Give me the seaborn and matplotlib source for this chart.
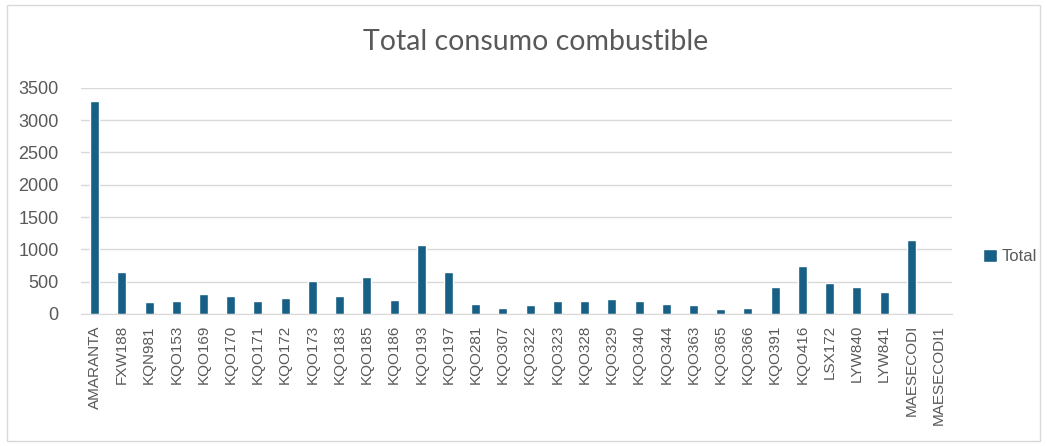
import pandas as pd
import matplotlib.pyplot as plt
import seaborn as sns
from matplotlib.patches import Rectangle

placas = ['AMARANTA', 'FXW188', 'KQN981', 'KQO153', 'KQO169', 'KQO170', 'KQO171',
          'KQO172', 'KQO173', 'KQO183', 'KQO185', 'KQO186', 'KQO193', 'KQO197',
          'KQO281', 'KQO307', 'KQO322', 'KQO323', 'KQO328', 'KQO329', 'KQO340',
          'KQO344', 'KQO363', 'KQO365', 'KQO366', 'KQO391', 'KQO416', 'LSX172',
          'LYW840', 'LYW841', 'MAESECODI', 'MAESECODI1']
consumo = [3295, 656, 181, 202, 305, 284, 206, 253, 507, 279, 569, 217, 1070, 656,
           155, 98, 134, 202, 197, 228, 206, 150, 140, 72, 98, 414, 749, 486,
           414, 336, 1148, 0]
yticks = [0, 500, 1000, 1500, 2000, 2500, 3000, 3500]

df = pd.DataFrame({'placa': placas, 'Total': consumo})

sns.set_style('white')
plt.rcParams['font.family'] = ['Liberation Sans', 'DejaVu Sans']

fig = plt.figure(figsize=(10.47, 4.46), dpi=100)
ax = fig.add_axes([0.0774, 0.296, 0.832, 0.507])

sns.barplot(x='placa', y='Total', data=df, color='#175f84', width=0.33,
            saturation=1, label='Total', legend=False, ax=ax)

ax.set_ylim(0, 3500)
ax.set_yticks(yticks)
ax.grid(axis='y', color='#d9d9d9', linewidth=1)
ax.set_axisbelow(True)
for s in ['top', 'right', 'left']:
    ax.spines[s].set_visible(False)
ax.spines['bottom'].set_color('#d9d9d9')
ax.set_xlabel('')
ax.set_ylabel('')
ax.tick_params(axis='y', length=0, labelsize=13, labelcolor='#595959', pad=16)
ax.tick_params(axis='x', length=0, labelsize=11, labelcolor='#595959', pad=8)
plt.setp(ax.get_xticklabels(), rotation=90)

# leyenda a la derecha, como en Excel
h, l = ax.get_legend_handles_labels()
if ax.get_legend() is not None:
    ax.get_legend().remove()
fig.legend(h, l, loc='center left', bbox_to_anchor=(0.925, 0.424), frameon=False,
           handlelength=0.8, handleheight=0.8, handletextpad=0.3,
           prop={'size': 12}, labelcolor='#595959')

fig.text(0.512, 0.906, 'Total consumo combustible', ha='center', va='center',
         fontsize=20.5, color='#595959', family=['Lato', 'DejaVu Sans'])

fig.patches.append(Rectangle((0.007, 0.012), 0.986, 0.976, transform=fig.transFigure,
                             fill=False, edgecolor='#d9d9d9', linewidth=1))

plt.savefig('out.png', dpi=100)
